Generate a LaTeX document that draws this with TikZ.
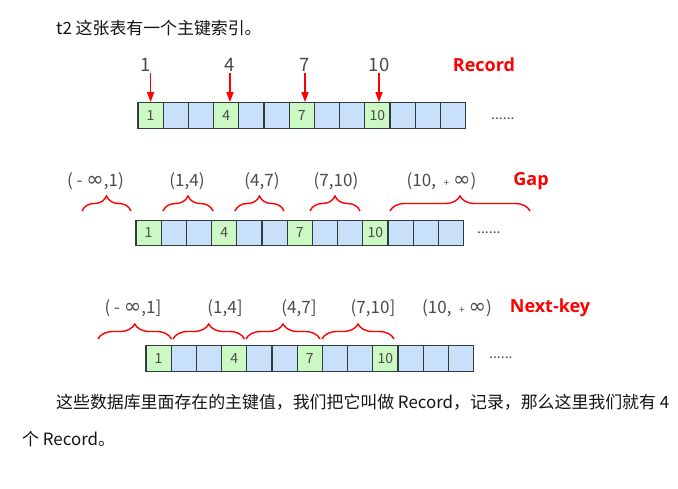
\documentclass[tikz,border=0pt]{standalone}
\usepackage{fontspec}
\setmainfont{Noto Sans CJK SC}
\newfontfamily\boldlab{Open Sans}
\newfontfamily\symfont{DejaVu Sans}
\usetikzlibrary{arrows.meta,decorations.pathreplacing}
\definecolor{cellg}{RGB}{204,248,196}
\definecolor{cellb}{RGB}{200,224,250}
\definecolor{cellline}{RGB}{50,60,60}
\definecolor{txtgray}{RGB}{75,75,75}
\definecolor{labred}{RGB}{255,0,0}
\definecolor{bodytext}{RGB}{20,20,20}
\tikzset{
 cellbox/.style={draw=cellline,line width=1.3pt,minimum width=25.2pt,minimum height=25.5pt,inner sep=0pt,text=txtgray,font=\fontsize{14}{14}\selectfont},
 keylab/.style={text=txtgray,font=\fontsize{18.5}{18.5}\selectfont,inner sep=1pt},
 intlab/.style={text=txtgray,font=\fontsize{17}{17}\selectfont,inner sep=0pt},
 redlab/.style={text=labred,font=\boldlab\bfseries\fontsize{18}{18}\selectfont,inner sep=0pt},
 redarrow/.style={draw=labred,line width=1.3pt,-{Triangle[width=7pt,length=10pt]}},
 redbrace/.style={draw=labred,line width=1.4pt,decorate,decoration={brace,amplitude=15pt}},
 bodytxt/.style={text=bodytext,font=\fontsize{16.9}{16.9}\selectfont,inner sep=0pt,anchor=west},
 dotstxt/.style={text=txtgray,font=\fontsize{14}{14}\selectfont,inner sep=0pt,anchor=base west},
}
\newcommand\cellrow[3]{%
 \foreach \i/\c/\t in {0/cellg/1,1/cellb/,2/cellb/,3/cellg/4,4/cellb/,5/cellb/,6/cellg/7,7/cellb/,8/cellb/,9/cellg/10,10/cellb/,11/cellb/,12/cellb/}
 {\node[cellbox,fill=\c] (#1\i) at ({#2+(\i+0.5)*25.2},{-(#3)}) {\t};}}
\newcommand\smallplus{{\fontsize{10}{10}\selectfont +}}
\newcommand\infsym{{\symfont\fontsize{21}{21}\selectfont ∞}}
\begin{document}
\begin{tikzpicture}[x=1pt,y=1pt]
\path[use as bounding box,fill=white] (0,0) rectangle (678,-488);

% top text
\node[bodytxt] (title) at (56,-28) {t2 这张表有一个主键索引。};

% ---------- Row 1: Record ----------
\cellrow{ra}{138}{115.5}
\node[keylab] (k1) at (146,-65) {1};
\node[keylab] (k4) at (230,-65) {4};
\node[keylab] (k7) at (305,-65) {7};
\node[keylab] (k10) at (379,-65) {10};
\node[redlab] (rec) at (484,-65) {Record};
\draw[redarrow] (k1.south -| ra0.north) -- (ra0.north);
\draw[redarrow] (k4.south) -- (k4.south |- ra3.north);
\draw[redarrow] (k7.south) -- (k7.south |- ra6.north);
\draw[redarrow] (k10.south) -- (k10.south |- ra9.north);
\node[dotstxt] (dotsa) at (491,-119) {......};

% ---------- Row 2: Gap ----------
\cellrow{rb}{136}{233}
\node[intlab] (g1) at (95.5,-181) {(\ -\ \infsym,1)};
\node[intlab] (g2) at (187,-181) {(1,4)};
\node[intlab] (g3) at (262,-181) {(4,7)};
\node[intlab] (g4) at (336,-181) {(7,10)};
\node[intlab] (g5) at (441.5,-181) {(10,\ \ \smallplus\ \infsym)};
\node[redlab] (gap) at (531,-181) {Gap};
\draw[redbrace] (82,-211) -- (131,-211);
\draw[redbrace] (163,-211) -- (213,-211);
\draw[redbrace] (235,-211) -- (284,-211);
\draw[redbrace] (310,-211) -- (360,-211);
\draw[redbrace] (390,-211) -- (530,-211);
\node[dotstxt] (dotsb) at (477,-233) {......};

% ---------- Row 3: Next-key ----------
\cellrow{rc}{146}{358.5}
\node[intlab] (n1) at (133,-308) {(\ -\ \infsym,1]};
\node[intlab] (n2) at (225,-308) {(1,4]};
\node[intlab] (n3) at (299,-308) {(4,7]};
\node[intlab] (n4) at (373,-308) {(7,10]};
\node[intlab] (n5) at (457,-308) {(10,\ \ \smallplus\ \infsym)};
\node[redlab] (nk) at (550,-308) {Next-key};
\draw[redbrace] (98,-339) -- (171.5,-339);
\draw[redbrace] (173,-339) -- (244.5,-339);
\draw[redbrace] (246,-339) -- (320,-339);
\draw[redbrace] (322,-339) -- (394,-339);
\node[dotstxt] (dotsc) at (489,-358) {......};

% bottom text
\node[bodytxt] (p1) at (56,-402) {这些数据库里面存在的主键值，我们把它叫做 Record，记录，那么这里我们就有 4};
\node[bodytxt] (p2) at (22,-439) {个 Record。};
\end{tikzpicture}
\end{document}
